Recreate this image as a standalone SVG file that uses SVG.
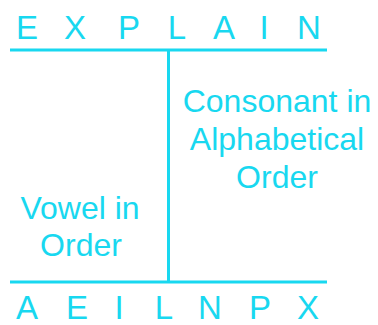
<svg xmlns="http://www.w3.org/2000/svg" width="378" height="325" viewBox="0 0 378 325">
<style>
text{font-family:"Liberation Sans",Arial,sans-serif;fill:#18d8f0;text-anchor:middle}
.big{font-size:33px}
.lab{font-size:32px}
.ln{stroke:#18d8f0;stroke-width:3;fill:none}
</style>
<rect width="378" height="325" fill="#fff"/>
<g id="connectors">
<line class="ln" x1="10" y1="50" x2="327" y2="50"/>
<line class="ln" x1="168.5" y1="50" x2="168.5" y2="282"/>
<line class="ln" x1="10" y1="282" x2="327" y2="282"/>
</g>
<g id="top-word">
<text class="big" x="27" y="39">E</text>
<text class="big" x="75" y="39">X</text>
<text class="big" x="129" y="39">P</text>
<text class="big" x="177" y="39">L</text>
<text class="big" x="224" y="39">A</text>
<text class="big" x="264" y="39">I</text>
<text class="big" x="309" y="39">N</text>
</g>
<g id="consonant-label">
<text class="lab" x="277" y="112">Consonant in</text>
<text class="lab" x="277" y="150">Alphabetical</text>
<text class="lab" x="277" y="188">Order</text>
</g>
<g id="vowel-label">
<text class="lab" x="80" y="219">Vowel in</text>
<text class="lab" x="81" y="256">Order</text>
</g>
<g id="bottom-word">
<text class="big" x="27" y="319">A</text>
<text class="big" x="77" y="319">E</text>
<text class="big" x="119" y="319">I</text>
<text class="big" x="164" y="319">L</text>
<text class="big" x="210" y="319">N</text>
<text class="big" x="260" y="319">P</text>
<text class="big" x="308" y="319">X</text>
</g>
</svg>
